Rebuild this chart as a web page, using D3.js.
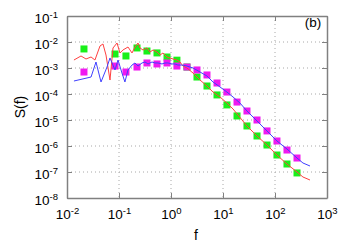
<!DOCTYPE html>
<html>
<head>
<meta charset="utf-8">
<script src="https://cdn.jsdelivr.net/npm/d3@7"></script>
<style>
body { margin: 0; background: #fff; }
svg text { font-family: "Liberation Sans", Arial, sans-serif; fill: #000; }
.grid line { stroke: #a8a8a8; stroke-dasharray: 1,3; }
.axis path, .axis line { stroke: #808080; }
</style>
</head>
<body>
<svg id="chart" width="346" height="247"></svg>
<script>
// red curve
var redF = [0.0136, 0.0186, 0.0232, 0.029, 0.0345, 0.0431, 0.0492, 0.0562, 0.0671, 0.0767, 0.0916, 0.1045, 0.119, 0.149, 0.178, 0.203, 0.232, 0.253, 0.29, 0.345, 0.394, 0.451, 0.538, 0.614, 0.702, 0.838, 0.958, 1.093, 1.3, 1.49, 1.7, 2.03, 2.65, 3.61, 4.92, 6.42, 8.76, 11.9, 15.6, 28.9, 45.1, 70.2, 109, 170, 265, 345, 471];
var redS = [2.03e-3, 2.9e-3, 2.22e-3, 2.65e-3, 2.03e-3, 7.02e-3, 8.38e-3, 3.16e-3, 3.45e-4, 5.88e-3, 9.16e-3, 3.78e-3, 4.92e-3, 6.42e-3, 3.78e-3, 6.42e-3, 9.16e-3, 5.88e-3, 4.92e-3, 5.88e-3, 4.12e-3, 4.92e-3, 4.12e-3, 3.16e-3, 3.78e-3, 2.65e-3, 2.43e-3, 2.22e-3, 2.03e-3, 1.7e-3, 1.19e-3, 1.0e-3, 6.42e-4, 3.45e-4, 2.03e-4, 1.19e-4, 7.67e-5, 4.5e-5, 2.65e-5, 5.88e-6, 2.43e-6, 1.09e-6, 4.5e-7, 2.03e-7, 1.0e-7, 6.42e-8, 4.92e-8];
// blue curve
var blueF = [0.0136, 0.029, 0.0361, 0.0451, 0.0588, 0.0671, 0.0838, 0.0958, 0.114, 0.13, 0.149, 0.178, 0.203, 0.232, 0.277, 0.316, 0.361, 0.431, 0.492, 0.562, 0.671, 0.767, 0.876, 1.045, 1.19, 1.36, 1.63, 2.03, 2.65, 3.61, 4.92, 6.42, 8.76, 11.9, 15.6, 21.2, 28.9, 45.1, 70.2, 109, 170, 265, 345, 471];
var blueS = [3.16e-4, 4.5e-4, 1.7e-3, 2.9e-4, 1.09e-3, 2.43e-3, 8.38e-4, 2.03e-3, 6.42e-4, 2.9e-4, 8.38e-4, 1.3e-3, 1.56e-3, 1.19e-3, 1.56e-3, 1.7e-3, 1.43e-3, 1.7e-3, 1.56e-3, 1.56e-3, 1.43e-3, 1.56e-3, 1.56e-3, 1.43e-3, 1.43e-3, 1.3e-3, 1.3e-3, 1.19e-3, 1.0e-3, 7.02e-4, 4.92e-4, 2.9e-4, 1.86e-4, 1.19e-4, 7.67e-5, 4.5e-5, 2.22e-5, 9.16e-6, 3.78e-6, 1.56e-6, 7.67e-7, 3.45e-7, 2.22e-7, 1.7e-7];
// square markers
var sqF = [0.0212, 0.0838, 0.136, 0.222, 0.345, 0.538, 0.838, 1.3, 2.03, 3.16, 4.92, 7.67, 11.9, 18.6, 28.9, 45.1, 70.2, 109, 170, 265];
var greenS = [5.4e-3, 3.45e-3, 2.9e-3, 5.9e-3, 4.5e-3, 3.8e-3, 2.65e-3, 2.0e-3, 1.09e-3, 4.5e-4, 2.03e-4, 9.2e-5, 3.8e-5, 1.43e-5, 5.9e-6, 2.43e-6, 1.09e-6, 4.5e-7, 2.03e-7, 9.2e-8];
var magentaS = [7.0e-4, 1.19e-3, 7.0e-4, 1.09e-3, 1.56e-3, 1.43e-3, 1.56e-3, 1.19e-3, 1.09e-3, 8.4e-4, 5.4e-4, 2.65e-4, 1.19e-4, 4.9e-5, 2.22e-5, 1.0e-5, 3.8e-6, 1.56e-6, 7.0e-7, 3.45e-7];
var xExp = [-2, -1, 0, 1, 2, 3];
var yExp = [-8, -7, -6, -5, -4, -3, -2, -1];

var svg = d3.select("#chart"),
    margin = {top: 16, right: 19, bottom: 49, left: 67},
    width = +svg.attr("width") - margin.left - margin.right,
    height = +svg.attr("height") - margin.top - margin.bottom,
    g = svg.append("g").attr("transform", "translate(" + margin.left + "," + margin.top + ")");

var x = d3.scaleLog().domain([1e-2, 1e3]).range([0, width]);
var y = d3.scaleLog().domain([1e-8, 1e-1]).range([height, 0]);
var xTicks = xExp.map(function(e) { return Math.pow(10, e); });
var yTicks = yExp.map(function(e) { return Math.pow(10, e); });

// dotted grid
g.append("g").attr("class", "grid")
    .selectAll("line").data(xTicks.slice(1, -1)).enter().append("line")
    .attr("x1", function(d) { return x(d); }).attr("x2", function(d) { return x(d); })
    .attr("y1", 0).attr("y2", height);
g.append("g").attr("class", "grid")
    .selectAll("line").data(yTicks.slice(1, -1)).enter().append("line")
    .attr("x1", 0).attr("x2", width)
    .attr("y1", function(d) { return y(d); }).attr("y2", function(d) { return y(d); });

function sup(sel, exps, anchor) {
    sel.each(function(d, i) {
        var t = d3.select(this).text(null).attr("text-anchor", anchor);
        t.append("tspan").text("10");
        t.append("tspan").attr("dy", "-0.45em").style("font-size", "9.5px").text(exps[i]);
    });
}

// axes (ticks inside, mirrored)
var gx = g.append("g").attr("class", "axis").attr("transform", "translate(0," + height + ")")
    .call(d3.axisBottom(x).tickValues(xTicks).tickSizeInner(-5).tickSizeOuter(0).tickPadding(11));
gx.selectAll("text").style("font-size", "13.5px").call(sup, xExp, "middle");
var gy = g.append("g").attr("class", "axis")
    .call(d3.axisLeft(y).tickValues(yTicks).tickSizeInner(-5).tickSizeOuter(0).tickPadding(9));
gy.selectAll("text").style("font-size", "13.5px").attr("dy", "0.45em").call(sup, yExp, "end");
g.append("g").attr("class", "axis")
    .call(d3.axisTop(x).tickValues(xTicks).tickSizeInner(-5).tickSizeOuter(0).tickFormat(""));
g.append("g").attr("class", "axis").attr("transform", "translate(" + width + ",0)")
    .call(d3.axisRight(y).tickValues(yTicks).tickSizeInner(-5).tickSizeOuter(0).tickFormat(""));
g.selectAll(".axis path").attr("stroke-width", 1.5);

// squares
function squares(ys, color) {
    g.append("g").selectAll("rect").data(sqF).enter().append("rect")
        .attr("x", function(d) { return x(d) - 3.5; })
        .attr("y", function(d, i) { return y(ys[i]) - 3.5; })
        .attr("width", 7).attr("height", 7)
        .attr("fill", color);
}
squares(greenS, "#19f019");
squares(magentaS, "#f019f0");

// curves
function curve(fs, ss, color) {
    var line = d3.line()
        .x(function(d) { return x(d); })
        .y(function(d, i) { return y(ss[i]); });
    g.append("path").datum(fs)
        .attr("fill", "none").attr("stroke", color).attr("stroke-width", 1)
        .attr("d", line);
}
curve(redF, redS, "#ff4040");
curve(blueF, blueS, "#4040ff");

// labels
svg.append("text").attr("x", 196).attr("y", 240).attr("text-anchor", "middle")
    .style("font-size", "14px").text("f");
svg.append("text").attr("transform", "translate(25,107) rotate(-90)").attr("text-anchor", "middle")
    .style("font-size", "14px").text("S(f)");
svg.append("text").attr("x", 313).attr("y", 27).attr("text-anchor", "middle")
    .style("font-size", "13.5px").text("(b)");
</script>
</body>
</html>
